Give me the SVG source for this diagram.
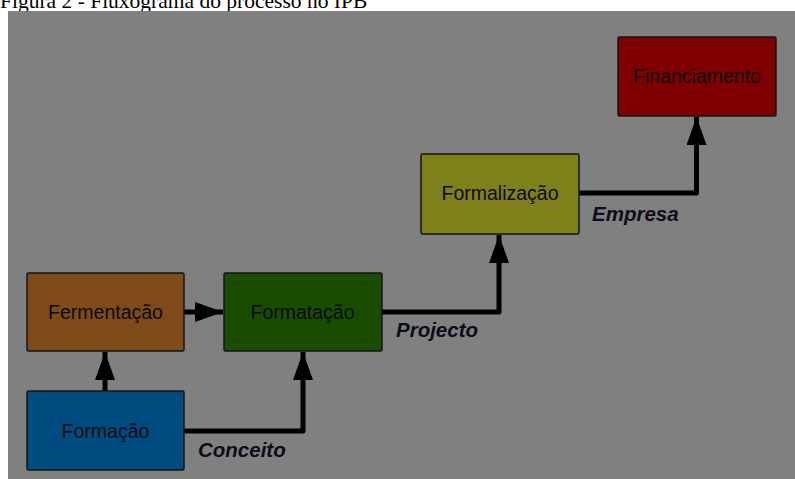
<svg xmlns="http://www.w3.org/2000/svg" width="795" height="479" viewBox="0 0 795 479">
<defs>
<style>
.box{stroke:#141414;stroke-width:1.5}
.lbl{font-family:"Liberation Sans",Arial,sans-serif;font-size:19.5px;fill:#0a0a0a;text-anchor:middle;dominant-baseline:central}
.edge{font-family:"Liberation Sans",Arial,sans-serif;font-size:20.5px;font-weight:bold;font-style:italic;fill:#0d0d1a}
.conn{fill:none;stroke:#000;stroke-width:5;stroke-linejoin:round}
.cap{font-family:"Liberation Serif","Times New Roman",serif;font-size:21.5px;fill:#000}
</style>
<marker id="ah" viewBox="0 0 28 20" refX="28" refY="10" markerWidth="28" markerHeight="20" markerUnits="userSpaceOnUse" orient="auto">
<path d="M0,0 L28,10 L0,20 Z" fill="#000"/>
</marker>
</defs>
<rect x="0" y="0" width="795" height="479" fill="#ffffff"/>
<text class="cap" x="0" y="8">Figura 2 - Fluxograma do processo no IPB</text>
<rect x="8" y="11" width="787" height="468" fill="#808080"/>
<g id="connectors">
<path class="conn" d="M105,391 L105,352" marker-end="url(#ah)"/>
<path class="conn" d="M183,312 L223,312" marker-end="url(#ah)"/>
<path class="conn" d="M184,431 L303,431 L303,352" marker-end="url(#ah)"/>
<path class="conn" d="M382,312 L499,312 L499,235" marker-end="url(#ah)"/>
<path class="conn" d="M579,193 L696.5,193 L696.5,117" marker-end="url(#ah)"/>
</g>
<g id="label-conceito"><text class="edge" x="198" y="457">Conceito</text></g>
<g id="label-projecto"><text class="edge" x="396" y="337">Projecto</text></g>
<g id="label-empresa"><text class="edge" x="592" y="221">Empresa</text></g>
<g id="node-formacao">
<rect class="box" x="27" y="391" width="157" height="79" rx="1.5" fill="#004c80"/>
<text class="lbl" x="105.5" y="430.5">Formação</text>
</g>
<g id="node-fermentacao">
<rect class="box" x="27" y="273" width="157" height="78" rx="1.5" fill="#7f4c19"/>
<text class="lbl" x="105.5" y="312">Fermentação</text>
</g>
<g id="node-formatacao">
<rect class="box" x="224" y="273" width="158" height="78" rx="1.5" fill="#1a4c00"/>
<text class="lbl" x="302.5" y="312">Formatação</text>
</g>
<g id="node-formalizacao">
<rect class="box" x="421" y="154" width="158" height="80" rx="1.5" fill="#80801a"/>
<text class="lbl" x="500" y="193">Formalização</text>
</g>
<g id="node-financiamento">
<rect class="box" x="618" y="37" width="158" height="79" rx="1.5" fill="#7f0000"/>
<text class="lbl" x="697" y="76">Financiamento</text>
</g>
</svg>
